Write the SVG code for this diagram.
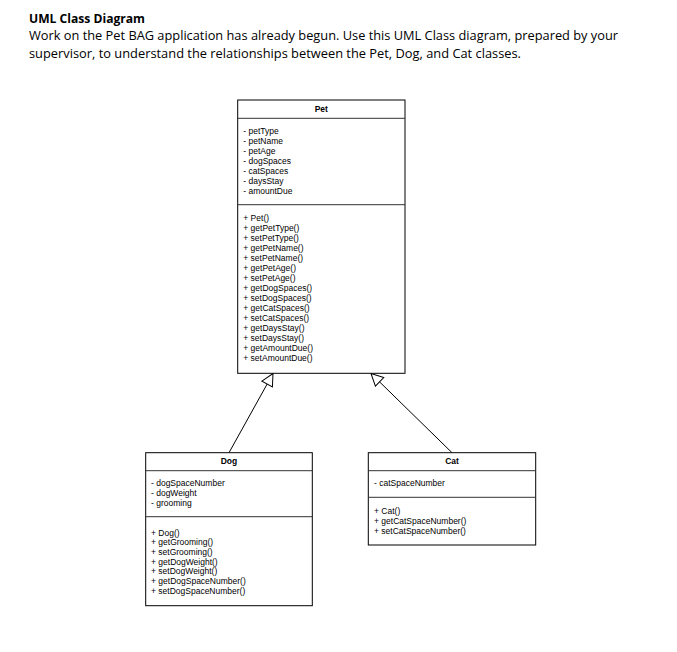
<svg xmlns="http://www.w3.org/2000/svg" width="677" height="652" viewBox="0 0 677 652">
<style>
.hdr{font-family:"Open Sans","Noto Sans","Liberation Sans",sans-serif;font-size:13px;fill:#000}
.hb{font-weight:bold}
.t{font-family:"Liberation Sans",Arial,sans-serif;font-size:8.5px;fill:#000}
.tb{font-family:"Liberation Sans",Arial,sans-serif;font-size:8.5px;font-weight:bold;fill:#000;text-anchor:middle}
.box{fill:#fff;stroke:#000;stroke-width:1}
.sep{stroke:#333;stroke-width:1}
.conn{stroke:#000;stroke-width:1;fill:none}
</style>
<defs>
<marker id="gen" markerUnits="userSpaceOnUse" markerWidth="14" markerHeight="14" refX="12" refY="6" orient="auto" viewBox="-1 -1 14 14">
<path d="M0,0 L12,6 L0,12 Z" fill="#fff" stroke="#000" stroke-width="1"/>
</marker>
</defs>
<rect width="677" height="652" fill="#fff"/>
<g id="header">
<text class="hdr hb" x="29" y="22.5" textLength="116" lengthAdjust="spacingAndGlyphs">UML Class Diagram</text>
<text class="hdr" x="29" y="40" textLength="589" lengthAdjust="spacingAndGlyphs">Work on the Pet BAG application has already begun. Use this UML Class diagram, prepared by your</text>
<text class="hdr" x="29" y="58" textLength="492" lengthAdjust="spacingAndGlyphs">supervisor, to understand the relationships between the Pet, Dog, and Cat classes.</text>
</g>
<g id="connectors">
<line class="conn" x1="229" y1="452.7" x2="273" y2="373.5" marker-end="url(#gen)"/>
<line class="conn" x1="452" y1="452.7" x2="371" y2="373.5" marker-end="url(#gen)"/>
</g>
<g id="pet">
<rect class="box" x="237.7" y="100" width="167.3" height="273.3"/>
<line class="sep" x1="237.7" y1="118.3" x2="405" y2="118.3"/>
<line class="sep" x1="237.7" y1="204.7" x2="405" y2="204.7"/>
<text class="tb" x="321.3" y="111.5">Pet</text>
<text class="t" x="243.3" y="133.5">- petType</text>
<text class="t" x="243.3" y="143.6">- petName</text>
<text class="t" x="243.3" y="153.7">- petAge</text>
<text class="t" x="243.3" y="163.8">- dogSpaces</text>
<text class="t" x="243.3" y="173.9">- catSpaces</text>
<text class="t" x="243.3" y="184">- daysStay</text>
<text class="t" x="243.3" y="194.1">- amountDue</text>
<text class="t" x="243.3" y="221.3">+ Pet()</text>
<text class="t" x="243.3" y="231.3">+ getPetType()</text>
<text class="t" x="243.3" y="241.3">+ setPetType()</text>
<text class="t" x="243.3" y="251.3">+ getPetName()</text>
<text class="t" x="243.3" y="261.3">+ setPetName()</text>
<text class="t" x="243.3" y="271.3">+ getPetAge()</text>
<text class="t" x="243.3" y="281.3">+ setPetAge()</text>
<text class="t" x="243.3" y="291.3">+ getDogSpaces()</text>
<text class="t" x="243.3" y="301.3">+ setDogSpaces()</text>
<text class="t" x="243.3" y="311.3">+ getCatSpaces()</text>
<text class="t" x="243.3" y="321.3">+ setCatSpaces()</text>
<text class="t" x="243.3" y="331.3">+ getDaysStay()</text>
<text class="t" x="243.3" y="341.3">+ setDaysStay()</text>
<text class="t" x="243.3" y="351.3">+ getAmountDue()</text>
<text class="t" x="243.3" y="361.3">+ setAmountDue()</text>
</g>
<g id="dog">
<rect class="box" x="145.7" y="452.7" width="166.6" height="153"/>
<line class="sep" x1="145.7" y1="470.7" x2="312.3" y2="470.7"/>
<line class="sep" x1="145.7" y1="516.7" x2="312.3" y2="516.7"/>
<text class="tb" x="229" y="463.7">Dog</text>
<text class="t" x="151" y="486.3">- dogSpaceNumber</text>
<text class="t" x="151" y="496">- dogWeight</text>
<text class="t" x="151" y="505.7">- grooming</text>
<text class="t" x="151" y="535.7">+ Dog()</text>
<text class="t" x="151" y="545.4">+ getGrooming()</text>
<text class="t" x="151" y="555">+ setGrooming()</text>
<text class="t" x="151" y="564.7">+ getDogWeight()</text>
<text class="t" x="151" y="574.4">+ setDogWeight()</text>
<text class="t" x="151" y="584">+ getDogSpaceNumber()</text>
<text class="t" x="151" y="593.7">+ setDogSpaceNumber()</text>
</g>
<g id="cat">
<rect class="box" x="368.3" y="452.7" width="167.4" height="92.3"/>
<line class="sep" x1="368.3" y1="470.7" x2="535.7" y2="470.7"/>
<line class="sep" x1="368.3" y1="497.3" x2="535.7" y2="497.3"/>
<text class="tb" x="452" y="463.7">Cat</text>
<text class="t" x="374" y="486.3">- catSpaceNumber</text>
<text class="t" x="374" y="513.7">+ Cat()</text>
<text class="t" x="374" y="523.7">+ getCatSpaceNumber()</text>
<text class="t" x="374" y="533.7">+ setCatSpaceNumber()</text>
</g>
</svg>
